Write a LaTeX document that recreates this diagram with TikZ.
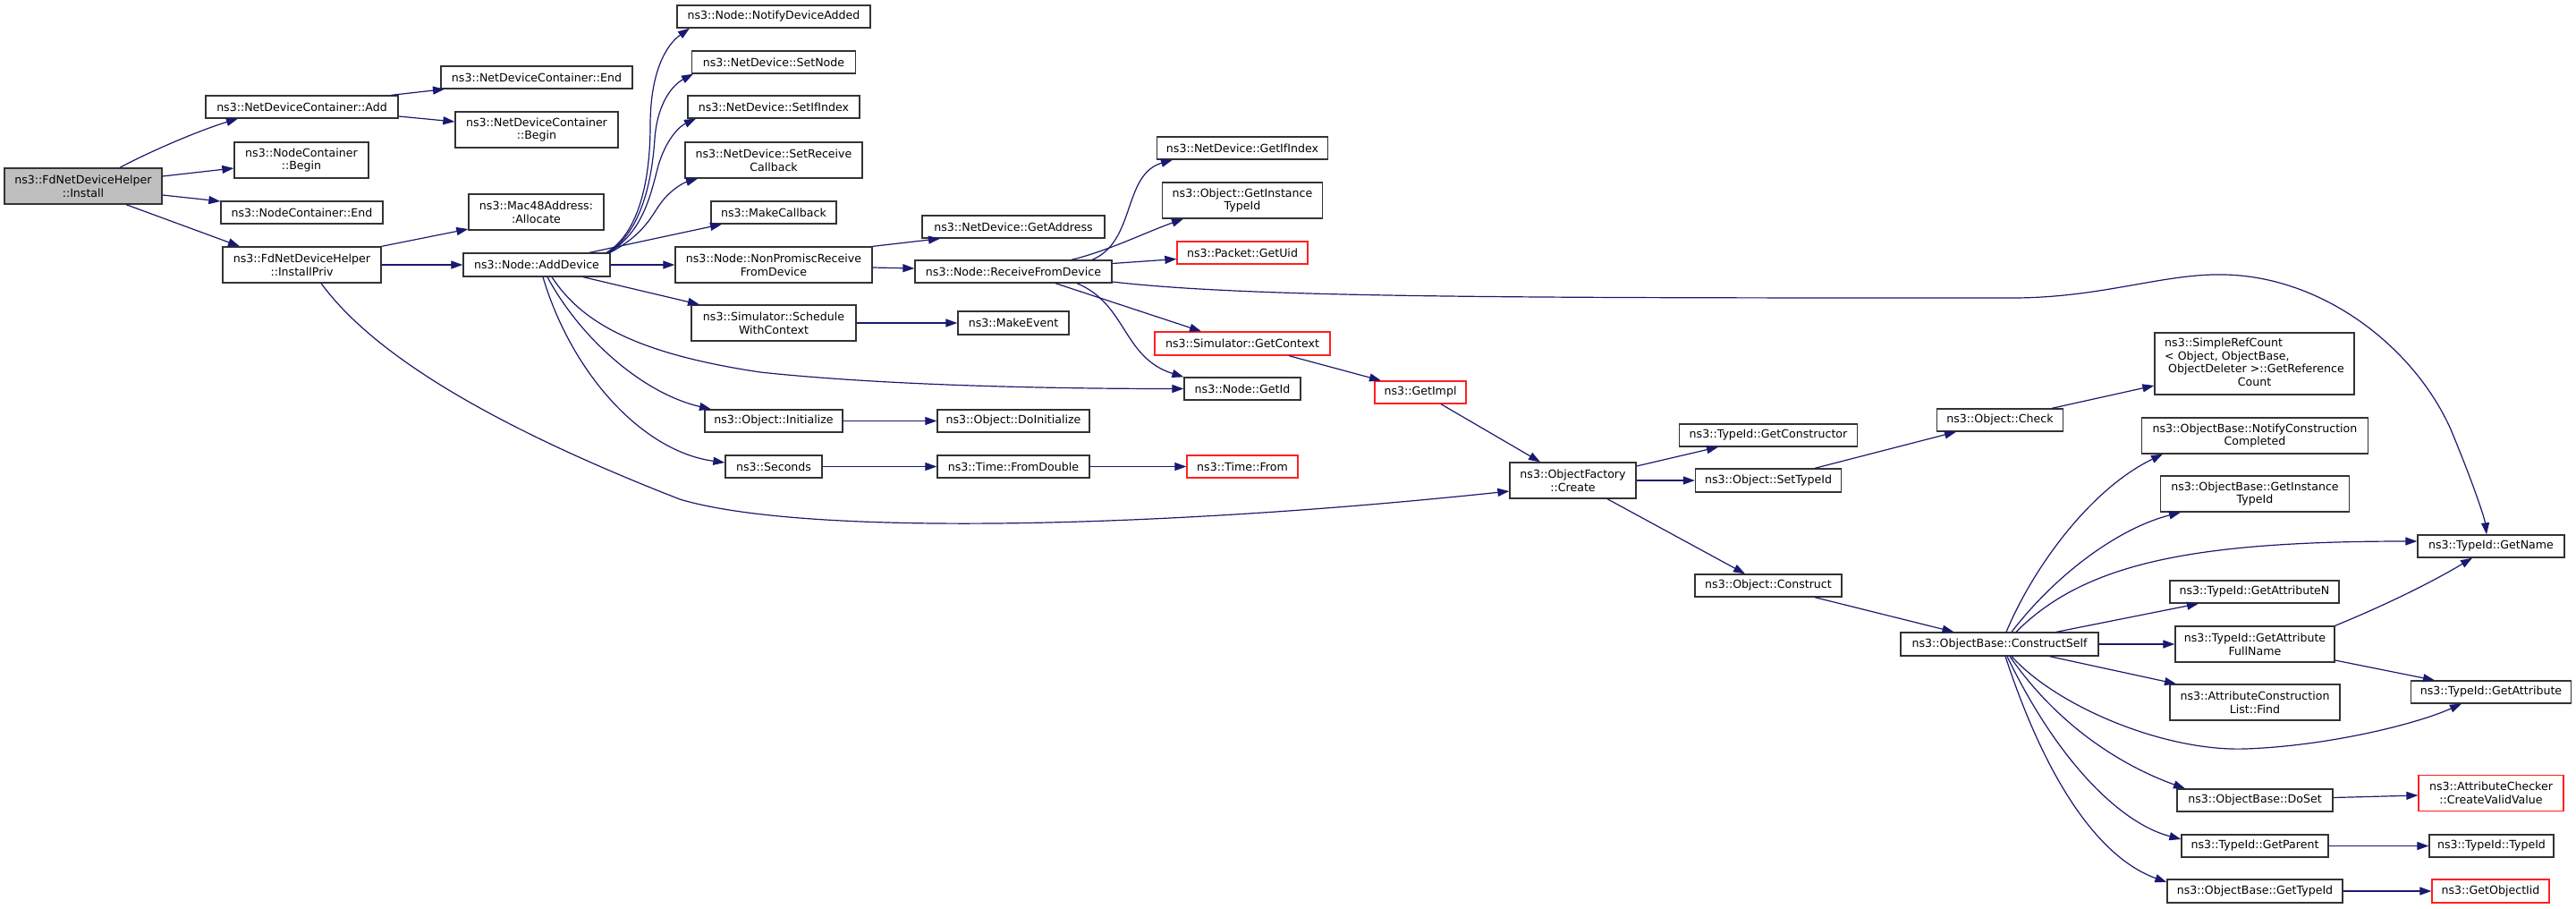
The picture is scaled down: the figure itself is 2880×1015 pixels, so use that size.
\documentclass[tikz,border=0pt]{standalone}
\usepackage{fontspec}
\setmainfont{DejaVu Sans}
\usetikzlibrary{arrows.meta}
\definecolor{edgec}{HTML}{191970}
\definecolor{boxc}{HTML}{333333}
\definecolor{redc}{HTML}{FF2020}
\definecolor{grayfill}{HTML}{BFBFBF}
\newcommand\dfont{\fontsize{12.6pt}{14.7pt}\selectfont}
\begin{document}
\begin{tikzpicture}[x=1pt,y=-1pt,
 box/.style={draw=boxc, line width=1.3pt, fill=white, inner xsep=2pt, inner ysep=1pt, font=\dfont, align=center, minimum height=25pt, text=black},
 rbox/.style={box, draw=redc},
 conn/.style={draw=edgec, line width=1.2pt, -{Triangle[length=13pt,width=9pt]}}]
\useasboundingbox (0,0) rectangle (2880,1015);
\fill[white] (0,0) rectangle (2880,1015);

\node[box,fill=grayfill,minimum width=176pt,minimum height=40pt] (install) at (93,208) {ns3::FdNetDeviceHelper\\::Install};
\node[box,minimum width=215pt] (ndcAdd) at (337.5,119.5) {ns3::NetDeviceContainer::Add};
\node[box,minimum width=150pt,minimum height=40pt] (ncBegin) at (337,179) {ns3::NodeContainer\\::Begin};
\node[box,minimum width=181pt] (ncEnd) at (337.5,237.5) {ns3::NodeContainer::End};
\node[box,minimum width=177pt,minimum height=40pt] (installPriv) at (337.5,296) {ns3::FdNetDeviceHelper\\::InstallPriv};
\node[box,minimum width=214pt] (ndcEnd) at (600,86.5) {ns3::NetDeviceContainer::End};
\node[box,minimum width=182pt,minimum height=40pt] (ndcBegin) at (600,145) {ns3::NetDeviceContainer\\::Begin};
\node[box,minimum width=151pt,minimum height=40pt] (macAlloc) at (599.5,237) {ns3::Mac48Address:\\:Allocate};
\node[box,minimum width=164pt,minimum height=26pt] (addDevice) at (600,296) {ns3::Node::AddDevice};
\node[box,minimum width=216pt] (notifyAdded) at (865,18.5) {ns3::Node::NotifyDeviceAdded};
\node[box,minimum width=183pt] (setNode) at (865,69.5) {ns3::NetDevice::SetNode};
\node[box,minimum width=192pt] (setIfIndex) at (865,119.5) {ns3::NetDevice::SetIfIndex};
\node[box,minimum width=198pt,minimum height=40pt] (setRecv) at (865,179) {ns3::NetDevice::SetReceive\\Callback};
\node[box,minimum width=140pt] (makeCallback) at (865,237.5) {ns3::MakeCallback};
\node[box,minimum width=220pt,minimum height=40pt] (nonPromisc) at (865,296) {ns3::Node::NonPromiscReceive\\FromDevice};
\node[box,minimum width=184pt,minimum height=40pt] (schedule) at (865,361) {ns3::Simulator::Schedule\\WithContext};
\node[box,minimum width=154pt] (objInit) at (865,470.5) {ns3::Object::Initialize};
\node[box,minimum width=108pt] (seconds) at (865,521.5) {ns3::Seconds};
\node[box,minimum width=204pt] (getAddress) at (1133,253.5) {ns3::NetDevice::GetAddress};
\node[box,minimum width=220pt] (recvFrom) at (1133,303.5) {ns3::Node::ReceiveFromDevice};
\node[box,minimum width=124pt,minimum height=26pt] (makeEvent) at (1133,361) {ns3::MakeEvent};
\node[box,minimum width=170pt] (doInit) at (1133,470.5) {ns3::Object::DoInitialize};
\node[box,minimum width=170pt] (fromDouble) at (1133,521.5) {ns3::Time::FromDouble};
\node[box,minimum width=191pt] (getIfIndex) at (1389,165.5) {ns3::NetDevice::GetIfIndex};
\node[box,minimum width=179pt,minimum height=40pt] (objGetInstTid) at (1389,224) {ns3::Object::GetInstance\\TypeId};
\node[rbox,minimum width=146pt] (pktUid) at (1389,282.5) {ns3::Packet::GetUid};
\node[rbox,minimum width=196pt,minimum height=26pt] (getContext) at (1389,384) {ns3::Simulator::GetContext};
\node[box,minimum width=130pt] (getId) at (1389,434.5) {ns3::Node::GetId};
\node[rbox,minimum width=124pt] (timeFrom) at (1389,521.5) {ns3::Time::From};
\node[rbox,minimum width=102pt] (getImpl) at (1588,438.5) {ns3::GetImpl};
\node[box,minimum width=141pt,minimum height=40pt] (create) at (1758.5,537) {ns3::ObjectFactory\\::Create};
\node[box,minimum width=199pt] (getCtor) at (1977,486.5) {ns3::TypeId::GetConstructor};
\node[box,minimum width=163pt,minimum height=26pt] (setTypeId) at (1977,537) {ns3::Object::SetTypeId};
\node[box,minimum width=164pt] (construct) at (1977,654.5) {ns3::Object::Construct};
\node[box,minimum width=141pt] (check) at (2236,469.5) {ns3::Object::Check};
\node[box,minimum width=223pt,minimum height=69pt] (simpleRef) at (2520.5,406.5) {\begin{tabular}{@{}l@{}}ns3::SimpleRefCount\\< Object, ObjectBase,\\\hspace*{4pt}ObjectDeleter >::GetReference\\\multicolumn{1}{@{}c@{}}{Count}\end{tabular}};
\node[box,minimum width=253pt,minimum height=40pt] (notifyCC) at (2521,487) {ns3::ObjectBase::NotifyConstruction\\Completed};
\node[box,minimum width=211pt,minimum height=40pt] (obGetInstTid) at (2521,552) {ns3::ObjectBase::GetInstance\\TypeId};
\node[box,minimum width=164pt] (getName) at (2785,610.5) {ns3::TypeId::GetName};
\node[box,minimum width=189pt] (getAttrN) at (2520.5,661.5) {ns3::TypeId::GetAttributeN};
\node[box,minimum width=178pt,minimum height=40pt] (getAttrFull) at (2521,720) {ns3::TypeId::GetAttribute\\FullName};
\node[box,minimum width=221pt,minimum height=26pt] (constructSelf) at (2235.5,720) {ns3::ObjectBase::ConstructSelf};
\node[box,minimum width=190pt,minimum height=40pt] (attrFind) at (2521,785) {ns3::AttributeConstruction\\List::Find};
\node[box,minimum width=179pt] (getAttr) at (2785,773.5) {ns3::TypeId::GetAttribute};
\node[box,minimum width=174pt] (doSet) at (2521,894.5) {ns3::ObjectBase::DoSet};
\node[rbox,minimum width=162pt,minimum height=40pt] (createValid) at (2785,886.5) {ns3::AttributeChecker\\::CreateValidValue};
\node[box,minimum width=164pt] (getParent) at (2521,945.5) {ns3::TypeId::GetParent};
\node[box,minimum width=139pt] (typeIdCtor) at (2785.5,945.5) {ns3::TypeId::TypeId};
\node[box,minimum width=196pt,minimum height=26pt] (obGetTypeId) at (2521,996) {ns3::ObjectBase::GetTypeId};
\node[rbox,minimum width=131pt,minimum height=26pt] (getObjectIid) at (2784.5,996) {ns3::GetObjectIid};

% edges from Install
\draw[conn] ([xshift=41pt]install.north) .. controls (170,168) and (225,145) .. ([xshift=-71.5pt]ndcAdd.south);
\draw[conn] ([yshift=11pt]install.east) -- ([yshift=-9pt]ncBegin.west);
\draw[conn] ([yshift=-10pt]install.east) -- ([yshift=12.5pt]ncEnd.west);
\draw[conn] ([xshift=48pt]install.south) -- ([xshift=-69.5pt]installPriv.north);
\draw[conn] ([xshift=100pt]ndcAdd.north) -- ([xshift=-103pt]ndcEnd.south);
\draw[conn] ([yshift=-10.5pt]ndcAdd.east) -- ([yshift=9pt]ndcBegin.west);
\draw[conn] (installPriv.north east) -- ([yshift=-19pt]macAlloc.west);
\draw[conn] (installPriv.east) -- (addDevice.west);
\draw[conn] ([xshift=21.5pt]installPriv.south) .. controls (420,400) and (560,480) .. (760,558) .. controls (900,600) and (1300,590) .. ([yshift=-12pt]create.west);

% edges from AddDevice
\draw[conn] ([xshift=78pt]addDevice.north) .. controls (715,260) and (727,200) .. (727,140) .. controls (727,80) and (745,50) .. ([xshift=-94pt]notifyAdded.south);
\draw[conn] ([xshift=80pt]addDevice.north) .. controls (718,258) and (729,200) .. (732,155) .. controls (735,115) and (752,95) .. ([xshift=-90pt]setNode.south);
\draw[conn] ([xshift=81pt]addDevice.north) .. controls (720,258) and (728,215) .. (736,185) .. controls (744,158) and (758,142) .. ([xshift=-87pt]setIfIndex.south);
\draw[conn] ([xshift=82pt]addDevice.north) .. controls (720,262) and (728,242) .. (738,228) .. controls (748,214) and (762,205) .. ([xshift=-85pt]setRecv.south);
\draw[conn] ([xshift=59pt]addDevice.north) -- ([xshift=-58pt]makeCallback.south);
\draw[conn] (addDevice.east) -- (nonPromisc.west);
\draw[conn] ([xshift=52pt]addDevice.south) -- ([xshift=-83pt]schedule.north);
\draw[conn] ([xshift=17pt]addDevice.south) .. controls (650,360) and (710,395) .. (850,416) .. controls (1000,432) and (1200,434.5) .. (getId.west);
\draw[conn] ([xshift=12pt]addDevice.south) .. controls (650,380) and (720,440) .. ([xshift=-70pt]objInit.north);
\draw[conn] ([xshift=7pt]addDevice.south) .. controls (640,420) and (720,505) .. ([yshift=4.5pt]seconds.west);

% NonPromisc / ReceiveFromDevice
\draw[conn] (nonPromisc.north east) -- ([xshift=-82pt]getAddress.south);
\draw[conn] ([yshift=-3pt]nonPromisc.east) -- ([yshift=3.5pt]recvFrom.west);
\draw[conn] ([xshift=88pt]recvFrom.north) .. controls (1270,270) and (1255,195) .. ([xshift=-78pt]getIfIndex.south);
\draw[conn] ([xshift=65pt]recvFrom.north) .. controls (1240,280) and (1280,260) .. ([xshift=-66pt]objGetInstTid.south);
\draw[conn] ([yshift=9pt]recvFrom.east) -- ([yshift=-7pt]pktUid.west);
\draw[conn] ([yshift=-11.5pt]recvFrom.east) .. controls (1400,333) and (1700,333) .. (2250,333) .. controls (2350,333) and (2420,305) .. (2488,307) .. controls (2600,310) and (2700,390) .. (2740,480) .. controls (2765,540) and (2778,580) .. ([xshift=-5pt]getName.north);
\draw[conn] ([xshift=47pt]recvFrom.south) -- ([xshift=-46pt]getContext.north);
\draw[conn] ([xshift=71pt]recvFrom.south) .. controls (1260,340) and (1255,400) .. (getId.north west);

% simple chains
\draw[conn] (schedule.east) -- (makeEvent.west);
\draw[conn] (objInit.east) -- (doInit.west);
\draw[conn] (seconds.east) -- (fromDouble.west);
\draw[conn] (fromDouble.east) -- (timeFrom.west);
\draw[conn] ([xshift=52pt]getContext.south) -- ([xshift=-44pt]getImpl.north);
\draw[conn] ([xshift=23pt]getImpl.south) -- ([xshift=-36.5pt]create.north);

% ObjectFactory::Create
\draw[conn] ([yshift=16pt]create.east) -- ([xshift=-56pt]getCtor.south);
\draw[conn] (create.east) -- (setTypeId.west);
\draw[conn] ([xshift=38.5pt]create.south) -- ([xshift=-26pt]construct.north);
\draw[conn] ([xshift=52pt]setTypeId.north) -- ([xshift=-49pt]check.south);
\draw[conn] ([xshift=58pt]check.north) -- ([yshift=-24.5pt]simpleRef.west);
\draw[conn] ([xshift=52pt]construct.south) -- ([xshift=-51pt]constructSelf.north);

% ConstructSelf
\draw[conn] ([xshift=7.5pt]constructSelf.north) .. controls (2275,630) and (2340,545) .. ([xshift=-103pt]notifyCC.south);
\draw[conn] ([xshift=13.5pt]constructSelf.north) .. controls (2300,640) and (2370,590) .. ([xshift=-83pt]obGetInstTid.south);
\draw[conn] ([xshift=18.5pt]constructSelf.north) .. controls (2330,630) and (2450,605) .. ([yshift=5.5pt]getName.west);
\draw[conn] ([xshift=63.5pt]constructSelf.north) -- ([xshift=-62.5pt]getAttrN.south);
\draw[conn] (constructSelf.east) -- (getAttrFull.west);
\draw[conn] ([xshift=56pt]constructSelf.south) -- ([xshift=-88pt]attrFind.north);
\draw[conn] ([xshift=13.5pt]constructSelf.south) .. controls (2300,790) and (2420,840) .. (2510,837) .. controls (2600,834) and (2700,810) .. ([xshift=-33pt]getAttr.south);
\draw[conn] ([xshift=11.5pt]constructSelf.south) .. controls (2300,810) and (2370,855) .. ([xshift=-78pt]doSet.north);
\draw[conn] ([xshift=8.5pt]constructSelf.south) .. controls (2300,850) and (2370,920) .. ([yshift=7.5pt]getParent.west);
\draw[conn] ([xshift=6.5pt]constructSelf.south) .. controls (2290,880) and (2350,960) .. ([yshift=10pt]obGetTypeId.west);

\draw[conn] (getAttrFull.north east) .. controls (2670,675) and (2720,650) .. ([xshift=-21pt]getName.south);
\draw[conn] ([yshift=-18pt]getAttrFull.east) -- ([xshift=-63pt]getAttr.north);
\draw[conn] ([yshift=3pt]doSet.east) -- ([yshift=-2.5pt]createValid.west);
\draw[conn] (getParent.east) -- (typeIdCtor.west);
\draw[conn] (obGetTypeId.east) -- (getObjectIid.west);
\end{tikzpicture}
\end{document}
